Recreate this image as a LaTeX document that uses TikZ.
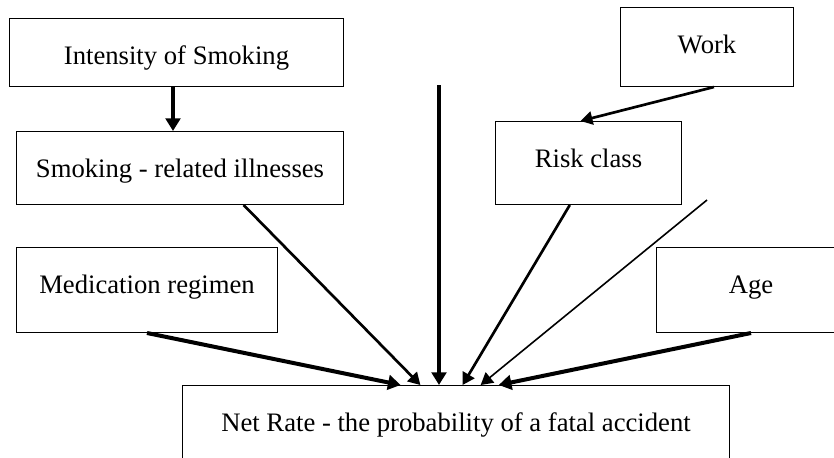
\documentclass[tikz,border=0pt]{standalone}
\usepackage{fontspec}
\setmainfont{Liberation Serif}
\usetikzlibrary{arrows.meta,calc}

\tikzset{every picture/.style={line width=0.75pt}}
\tikzset{
  factor/.style={draw, rectangle, anchor=north west, inner sep=0pt, text height=34.5pt, font=\fontsize{20}{23}\selectfont},
  link/.style={-{Triangle[length=9.5pt,width=11pt]}, line width=3pt},
  midlink/.style={-{Triangle[length=9pt,width=10pt]}, line width=2pt},
  thinlink/.style={-{Triangle[length=9pt,width=10pt]}, line width=1.2pt},
}

\begin{document}
\begin{tikzpicture}[x=0.75pt,y=0.75pt,yscale=-1,xscale=1]
            \useasboundingbox (0,0) rectangle (834,457);

            % Boxes
            \node (intensity) [factor, minimum width=250.5pt, text depth=16.5pt] at (9,18) {Intensity of Smoking};
            \node (illness) [factor, minimum width=245.25pt, text depth=20.25pt] at (16,131) {Smoking - related illnesses};
            \node (work) [factor, minimum width=129.75pt, text depth=24.75pt] at (620,7) {Work};
            \node (risk) [factor, minimum width=139.5pt, text depth=27.75pt] at (495,121) {Risk class};
            \node (medic) [factor, minimum width=195.75pt, text depth=29.25pt] at (16,247) {Medication regimen};
            \node (age) [factor, minimum width=141.75pt, text depth=29.25pt] at (656,247) {Age};
            \node (net) [factor, minimum width=410.25pt, text depth=25.5pt] at (182,385) {Net Rate - the probability of a fatal accident};

            % free ends
            \coordinate (upper) at (439,85);
            \coordinate (side) at (707,200);

            % Arrows
            \draw [link] (intensity.south -| 173,0) -- (illness.north -| 173,0);
            \draw [midlink] ($(work.south west)!0.54!(work.south east)$) -- ($(risk.north west)!0.457!(risk.north east)$);
            \draw [midlink] ($(illness.south west)!0.694!(illness.south east)$) -- ($(net.north west)!0.435!(net.north east)$);
            \draw [link] (medic.south) -- ($(net.north west)!0.399!(net.north east)$);
            \draw [link] (upper) -- (upper |- net.north);
            \draw [midlink] ($(risk.south west)!0.40!(risk.south east)$) -- ($(net.north west)!0.512!(net.north east)$);
            \draw [thinlink] (side) -- ($(net.north west)!0.545!(net.north east)$);
            \draw [link] (age.south) -- ($(net.north west)!0.578!(net.north east)$);

\end{tikzpicture}
\end{document}
